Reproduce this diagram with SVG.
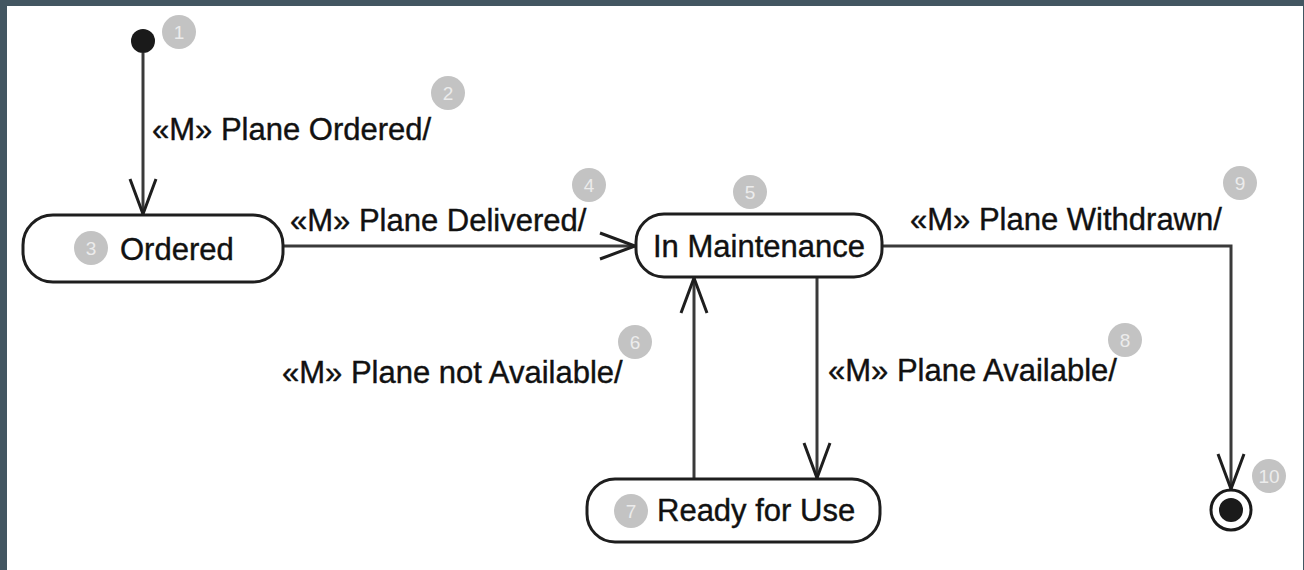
<svg xmlns="http://www.w3.org/2000/svg" width="1304" height="570" viewBox="0 0 1304 570">
<style>
.state{fill:#fff;stroke:#1e1e1e;stroke-width:3}
.conn{fill:none;stroke:#3a3a3a;stroke-width:3}
.lbl{font-family:"Liberation Sans",Arial,sans-serif;font-size:31px;fill:#111;stroke:#111;stroke-width:0.4}
.badge circle{fill:#c3c3c3}
.badge text{font-family:"Liberation Sans",Arial,sans-serif;font-size:19px;fill:#ececec;text-anchor:middle}
</style>
<defs>
<marker id="open" markerUnits="userSpaceOnUse" viewBox="-38 -16 41 32" refX="0" refY="0" markerWidth="41" markerHeight="32" orient="auto">
<path d="M-35,-13 L0,0 L-35,13" fill="none" stroke="#1e1e1e" stroke-width="3"/>
</marker>
</defs>
<rect x="0" y="0" width="1304" height="570" fill="#435661"/>
<rect x="7" y="6" width="1296" height="564" fill="#fff"/>

<g id="connectors">
<path class="conn" d="M143,53 V214" marker-end="url(#open)"/>
<path class="conn" d="M283,246 H635" marker-end="url(#open)"/>
<path class="conn" d="M882,246 H1231 V489" marker-end="url(#open)"/>
<path class="conn" d="M817,277 V478" marker-end="url(#open)"/>
<path class="conn" d="M694,479 V278" marker-end="url(#open)"/>
<text class="lbl" x="152" y="140">«M» Plane Ordered/</text>
<text class="lbl" x="290" y="231">«M» Plane Delivered/</text>
<text class="lbl" x="910" y="230">«M» Plane Withdrawn/</text>
<text class="lbl" x="282" y="383">«M» Plane not Available/</text>
<text class="lbl" x="828" y="381">«M» Plane Available/</text>
</g>

<g id="initial">
<circle cx="143" cy="41" r="12" fill="#1a1a1a"/>
</g>
<g id="ordered">
<rect class="state" x="23" y="215" width="260" height="67" rx="30"/>
<text class="lbl" x="120" y="260">Ordered</text>
</g>
<g id="maintenance">
<rect class="state" x="636" y="214" width="246" height="63" rx="28"/>
<text class="lbl" x="759" y="257" text-anchor="middle">In Maintenance</text>
</g>
<g id="ready">
<rect class="state" x="587" y="479" width="293" height="63" rx="28"/>
<text class="lbl" x="657" y="521">Ready for Use</text>
</g>
<g id="final">
<circle cx="1231" cy="510" r="20" fill="#fff" stroke="#1a1a1a" stroke-width="3"/>
<circle cx="1231" cy="510" r="12" fill="#1a1a1a"/>
</g>

<g id="badges">
<g class="badge"><circle cx="179" cy="32" r="17"/><text x="179" y="39">1</text></g>
<g class="badge"><circle cx="448" cy="93" r="17"/><text x="448" y="100">2</text></g>
<g class="badge"><circle cx="91" cy="248" r="17"/><text x="91" y="255">3</text></g>
<g class="badge"><circle cx="589" cy="185" r="17"/><text x="589" y="192">4</text></g>
<g class="badge"><circle cx="750" cy="192" r="17"/><text x="750" y="199">5</text></g>
<g class="badge"><circle cx="635" cy="342" r="17"/><text x="635" y="349">6</text></g>
<g class="badge"><circle cx="631" cy="511" r="17"/><text x="631" y="518">7</text></g>
<g class="badge"><circle cx="1125" cy="340" r="17"/><text x="1125" y="347">8</text></g>
<g class="badge"><circle cx="1240" cy="183" r="17"/><text x="1240" y="190">9</text></g>
<g class="badge"><circle cx="1269" cy="476" r="17"/><text x="1269" y="483">10</text></g>
</g>
</svg>
